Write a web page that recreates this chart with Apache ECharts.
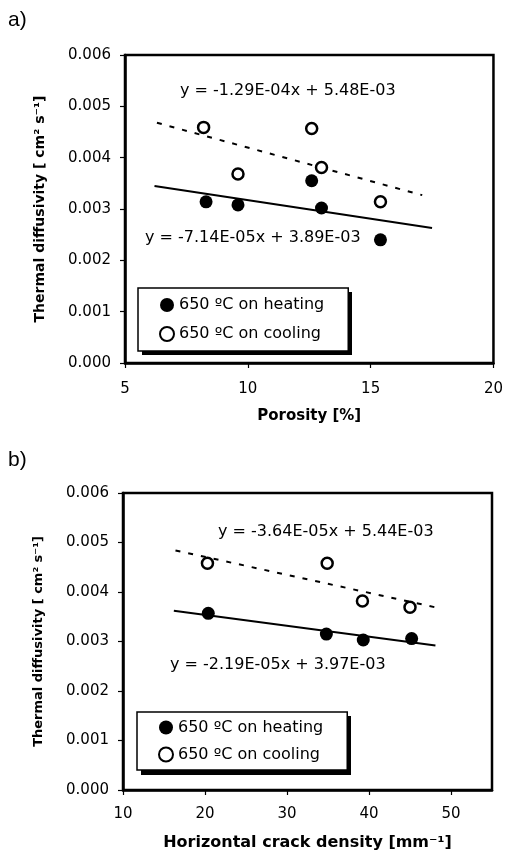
<!DOCTYPE html>
<html>
<head>
<meta charset="utf-8">
<script src="https://cdn.jsdelivr.net/npm/echarts@6/dist/echarts.min.js"></script>
<style>
html,body{margin:0;padding:0;background:#fff;}
#c{width:506px;height:853px;}
</style>
</head>
<body>
<div id="c"></div>
<script>
// ---- data ----
var porosityHeatX = [8.3, 9.6, 12.6, 13.0, 15.4];
var porosityHeatY = [0.00314, 0.00308, 0.00355, 0.00302, 0.00240];
var porosityCoolX = [8.2, 9.6, 12.6, 13.0, 15.4];
var porosityCoolY = [0.00459, 0.00368, 0.00457, 0.00381, 0.00314];
var porosityHeatTrendX = [6.2, 17.5];
var porosityHeatTrendY = [0.00345, 0.00263];
var porosityCoolTrendX = [6.3, 17.1];
var porosityCoolTrendY = [0.00468, 0.00327];

var crackHeatX = [20.4, 34.8, 39.3, 45.2];
var crackHeatY = [0.00357, 0.00315, 0.00303, 0.00306];
var crackCoolX = [20.3, 34.9, 39.2, 45.0];
var crackCoolY = [0.00458, 0.00458, 0.00382, 0.00369];
var crackHeatTrendX = [16.2, 48.1];
var crackHeatTrendY = [0.00362, 0.00292];
var crackCoolTrendX = [16.4, 48.1];
var crackCoolTrendY = [0.00484, 0.00369];

var heatName = '650 ºC on heating';
var coolName = '650 ºC on cooling';
var eqA1 = 'y = -1.29E-04x + 5.48E-03';
var eqA2 = 'y = -7.14E-05x + 3.89E-03';
var eqB1 = 'y = -3.64E-05x + 5.44E-03';
var eqB2 = 'y = -2.19E-05x + 3.97E-03';
var yTitle = 'Thermal diffusivity [ cm² s⁻¹]';
var xTitleA = 'Porosity [%]';
var xTitleB = 'Horizontal crack density [mm⁻¹]';

function zip(xs, ys){ return xs.map(function(x,i){ return [x, ys[i]]; }); }

var F = 'DejaVu Sans';
var chart = echarts.init(document.getElementById('c'), null, {renderer:'canvas'});

function yAxis(gi, nameSize, gap){
  return {
    type:'value', gridIndex:gi, min:0, max:0.006, interval:0.001,
    name:yTitle, nameLocation:'middle', nameGap:gap, nameMoveOverlap:false,
    nameTextStyle:{fontFamily:F, fontWeight:'bold', fontSize:nameSize, color:'#000'},
    axisLine:{show:true, lineStyle:{color:'#000', width:2.5}},
    axisTick:{show:true, inside:false, length:5, lineStyle:{color:'#000', width:1.2}},
    axisLabel:{color:'#000', fontFamily:F, fontSize:15, margin:14,
      formatter:function(v){ return v.toFixed(3); }},
    splitLine:{show:false}
  };
}
function xAxis(gi, min, max, interval, name, nameSize, gap, lmargin){
  return {
    type:'value', gridIndex:gi, min:min, max:max, interval:interval,
    name:name, nameLocation:'middle', nameGap:gap, nameMoveOverlap:false,
    nameTextStyle:{fontFamily:F, fontWeight:'bold', fontSize:nameSize, color:'#000'},
    axisLine:{show:true, onZero:false, lineStyle:{color:'#000', width:2.5}},
    axisTick:{show:true, inside:false, length:5, lineStyle:{color:'#000', width:1.2}},
    axisLabel:{color:'#000', fontFamily:F, fontSize:15, margin:lmargin, showMaxLabel:(max % interval === 0),
      formatter:function(v){ return (v % interval === 0) ? String(v) : ''; }},
    splitLine:{show:false}
  };
}
function legend(gi, left, top, pad, gap){
  return {
    data:[heatName, coolName], orient:'vertical', left:left, top:top,
    padding:pad, itemGap:gap, itemWidth:14, itemHeight:14,
    borderColor:'#000', borderWidth:1.5, backgroundColor:'#fff',
    selectedMode:false, z:6,
    textStyle:{fontFamily:F, fontSize:16, color:'#000'}
  };
}
function scatter(name, gi, data, filled){
  return {
    type:'scatter', name:name, xAxisIndex:gi, yAxisIndex:gi, data:data,
    symbol:'circle', symbolSize:filled ? 13 : 11, z:5,
    itemStyle: filled ? {color:'#000', opacity:1} : {color:'#fff', borderColor:'#000', borderWidth:2.5, opacity:1},
    emphasis:{disabled:true}
  };
}
function trend(gi, data, dashed){
  return {
    type:'line', xAxisIndex:gi, yAxisIndex:gi, data:data, symbol:'none', z:3,
    lineStyle:{color:'#000', width:2, type: dashed ? [5,8] : 'solid'},
    emphasis:{disabled:true}, silent:true
  };
}
function txt(x, y, s){
  return {type:'text', left:x, top:y, style:{text:s, fill:'#000', font:'16px "DejaVu Sans"'}, z:10};
}

chart.setOption({
  animation:false,
  backgroundColor:'#fff',
  grid:[
    {left:125, top:55, width:372, height:308, show:true, borderColor:'#000', borderWidth:2.5, backgroundColor:'transparent'},
    {left:123, top:493, width:369, height:297, show:true, borderColor:'#000', borderWidth:2.5, backgroundColor:'transparent'}
  ],
  xAxis:[
    xAxis(0, 5, 20, 5, xTitleA, 15, 46, 19),
    xAxis(1, 10, 55, 10, xTitleB, 16, 45, 17)
  ],
  yAxis:[ yAxis(0, 14, 78), yAxis(1, 13, 78) ],
  legend:[ legend(0, 138, 288, [9, 24, 9, 21], 13), legend(1, 137, 712, [7.5, 24, 7.5, 21], 11) ],
  graphic:[
    {type:'text', left:8, top:10, style:{text:'a)', fill:'#000', font:'21px "Liberation Sans"'}},
    {type:'text', left:8, top:450, style:{text:'b)', fill:'#000', font:'21px "Liberation Sans"'}},
    {type:'rect', left:142, top:292, z:5, shape:{width:210, height:63}, style:{fill:'#000'}},
    {type:'rect', left:141, top:716, z:5, shape:{width:210, height:59}, style:{fill:'#000'}},
    txt(180, 83, eqA1),
    txt(145, 230, eqA2),
    txt(218, 524, eqB1),
    txt(170, 657, eqB2)
  ],
  series:[
    trend(0, zip(porosityHeatTrendX, porosityHeatTrendY), false),
    trend(0, zip(porosityCoolTrendX, porosityCoolTrendY), true),
    scatter(heatName, 0, zip(porosityHeatX, porosityHeatY), true),
    scatter(coolName, 0, zip(porosityCoolX, porosityCoolY), false),
    trend(1, zip(crackHeatTrendX, crackHeatTrendY), false),
    trend(1, zip(crackCoolTrendX, crackCoolTrendY), true),
    scatter(heatName, 1, zip(crackHeatX, crackHeatY), true),
    scatter(coolName, 1, zip(crackCoolX, crackCoolY), false)
  ]
});
</script>
</body>
</html>
